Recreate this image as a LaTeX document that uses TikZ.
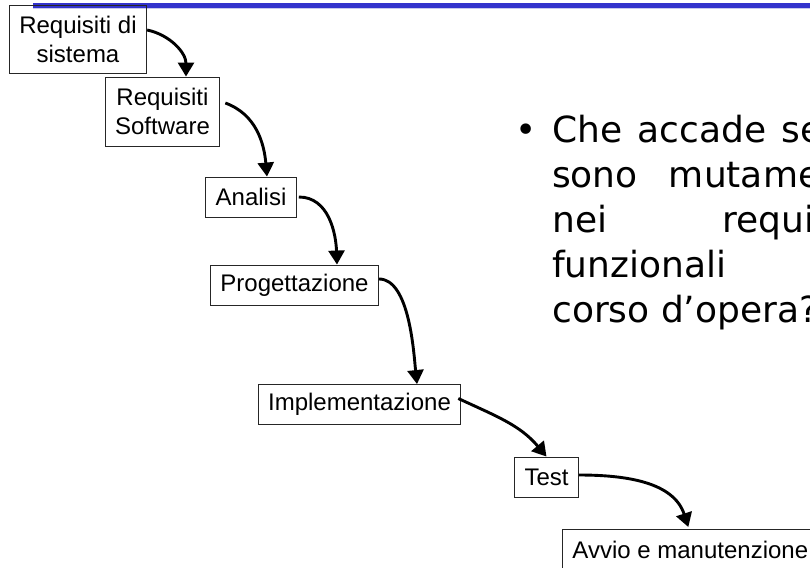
\documentclass[tikz,border=0pt]{standalone}
\usepackage{fontspec}
\setmainfont{Liberation Sans}
\newfontfamily\bodyfont{DejaVu Sans}
\usepackage{tikz}
\usetikzlibrary{arrows.meta}

\definecolor{barblue}{HTML}{3333CC}
\definecolor{barshade}{HTML}{C8C8EC}

\begin{document}
\begin{tikzpicture}[x=1pt,y=-1pt,
    fase/.style={shape=rectangle,draw=black!85,line width=0.9pt,inner xsep=10pt,inner ysep=0pt,
                 font=\fontsize{24}{29}\selectfont,align=center},
    freccia/.style={-{Triangle[length=14pt,width=16pt]},line width=2.9pt}]
    	
    	\useasboundingbox (0,0) rectangle (810,567);
    	\clip (0,0) rectangle (810,567);
    	
    	% barra in alto
    	\fill[barblue] (33,3) rectangle (810,8);
    	\fill[barshade] (33,8) rectangle (810,9);
    	
    	\node[fase,minimum height=68pt] (rsys) at (78, 39)      {Requisiti di\\sistema};
    	\node[fase,minimum height=69pt] (rsw)  at (162.5, 111.5) {Requisiti\\Software};
    	\node[fase,minimum height=40pt] (ana)  at (251, 197)     {Analisi};
    	\node[fase,minimum height=40pt] (prog) at (294.5, 285)   {Progettazione};
    	\node[fase,minimum height=40pt] (impl) at (359.5, 404.5) {Implementazione};
    	\node[fase,minimum height=40pt] (test) at (546.5, 477)   {Test};
    	\node[fase,minimum height=40pt,anchor=north west] (avvio) at (562, 529) {Avvio e manutenzione};
    	
    	\path[freccia] ([yshift=9pt]rsys.east) edge[out=-12,in=90] ([xshift=23.5pt]rsw.north);
    	\path[freccia] ([xshift=5pt,yshift=8.5pt]rsw.east) edge[out=-20,in=95] ([xshift=16pt]ana.north);
    	\path[freccia] ([xshift=2pt]ana.east) edge[out=0,in=92] ([xshift=42.5pt]prog.north);
    	\path[freccia] ([yshift=6pt]prog.east) edge[out=0,in=96,looseness=0.7] ([xshift=57.5pt]impl.north);
    	\path[freccia] ([xshift=-3pt,yshift=6pt]impl.east) edge[out=-25,in=130] (test.north);
    	\path[freccia] ([yshift=2pt]test.east) edge[out=0,in=108] ([xshift=-2pt,yshift=2pt]avvio.north);
    	
    	% testo a destra
    	\node[anchor=north west,inner sep=0pt,align=left,font=\bodyfont\fontsize{36}{45}\selectfont] (domanda) at (552, 114.6)
    	   {\llap{\textbullet\hspace{15pt}}\makebox[315pt][s]{Che accade se ci}\\
    	    \makebox[315pt][s]{sono mutamenti}\\
    	    \makebox[315pt][s]{nei requisiti}\\
    	    \makebox[315pt][s]{funzionali in}\\
    	    corso d’opera?};
    	
\end{tikzpicture}
\end{document}
